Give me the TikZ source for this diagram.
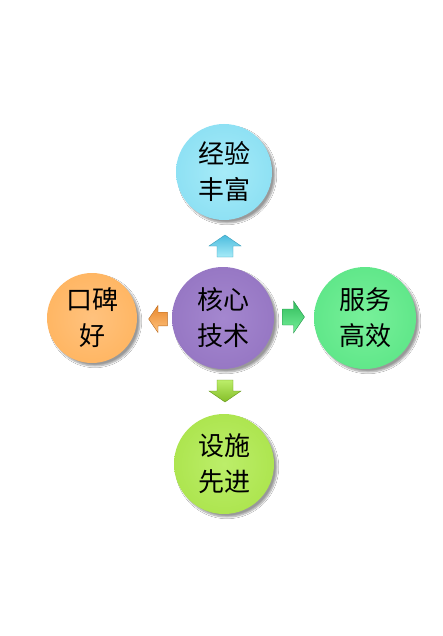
\documentclass[tikz,border=0pt]{standalone}
\usepackage{fontspec}
\newfontfamily\cjk{Noto Sans CJK SC}
\usetikzlibrary{shadows.blur}
\definecolor{cyL}{HTML}{A6EBF8}\definecolor{cyM}{HTML}{86DDF2}\definecolor{cyD}{HTML}{4CBCDE}\definecolor{cyR}{HTML}{D0F6FC}\definecolor{cyE}{HTML}{3A9FBC}
\definecolor{orL}{HTML}{FFC27E}\definecolor{orM}{HTML}{FFB25A}\definecolor{orD}{HTML}{E8882C}\definecolor{orR}{HTML}{FFDCAA}\definecolor{orE}{HTML}{B86A20}
\definecolor{puL}{HTML}{A487CF}\definecolor{puM}{HTML}{9272C0}\definecolor{puD}{HTML}{6A4E9C}\definecolor{puR}{HTML}{C0AAE0}\definecolor{puE}{HTML}{52387C}
\definecolor{grL}{HTML}{78F09A}\definecolor{grM}{HTML}{58E484}\definecolor{grD}{HTML}{30BC5C}\definecolor{grR}{HTML}{B0F8C8}\definecolor{grE}{HTML}{229448}
\definecolor{liL}{HTML}{BCEE6A}\definecolor{liM}{HTML}{A8E246}\definecolor{liD}{HTML}{84BE28}\definecolor{liR}{HTML}{DAF8A4}\definecolor{liE}{HTML}{66961A}
\pgfdeclareradialshading{ballcyan}{\pgfpoint{0bp}{0bp}}{color(0bp)=(cyL); color(34bp)=(cyM); color(44.5bp)=(cyD); color(47bp)=(cyD); color(48.3bp)=(cyR); color(50bp)=(cyE)}
\pgfdeclareradialshading{ballorange}{\pgfpoint{0bp}{0bp}}{color(0bp)=(orL); color(34bp)=(orM); color(44.5bp)=(orD); color(47bp)=(orD); color(48.3bp)=(orR); color(50bp)=(orE)}
\pgfdeclareradialshading{ballpurple}{\pgfpoint{0bp}{0bp}}{color(0bp)=(puL); color(34bp)=(puM); color(44.5bp)=(puD); color(47bp)=(puD); color(48.3bp)=(puR); color(50bp)=(puE)}
\pgfdeclareradialshading{ballgreen}{\pgfpoint{0bp}{0bp}}{color(0bp)=(grL); color(34bp)=(grM); color(44.5bp)=(grD); color(47bp)=(grD); color(48.3bp)=(grR); color(50bp)=(grE)}
\pgfdeclareradialshading{balllime}{\pgfpoint{0bp}{0bp}}{color(0bp)=(liL); color(34bp)=(liM); color(44.5bp)=(liD); color(47bp)=(liD); color(48.3bp)=(liR); color(50bp)=(liE)}
\tikzset{
  ball/.style={circle, inner sep=0pt, align=center, text=black,
    font=\cjk\fontsize{26}{36}\selectfont,
    blur shadow={shadow xshift=3pt, shadow yshift=-3pt, shadow blur steps=6, shadow opacity=40}},
  blockarrow/.pic={\path[pic actions] (-11,-8) -- (0,-8) -- (0,-16) -- (11,0) -- (0,16) -- (0,8) -- (-11,8) -- cycle;}
}
\begin{document}
\begin{tikzpicture}[x=1pt,y=-1pt]
\fill[white] (0,0) rectangle (442,636);
\useasboundingbox (0,0) rectangle (442,636);
\node[ball, minimum size=96pt, shading=ballcyan] (top) at (224,172) {经验\\丰富};
\node[ball, minimum size=90pt, shading=ballorange] (left) at (92,318) {口碑\\好};
\node[ball, minimum size=102pt, shading=ballpurple] (core) at (223,318) {核心\\技术};
\node[ball, minimum size=102pt, shading=ballgreen] (right) at (365,318) {服务\\高效};
\node[ball, minimum size=100pt, shading=balllime] (bottom) at (224,464) {设施\\先进};
\coordinate (aTop) at (225,246);
\coordinate (aLeft) at (158,319);
\coordinate (aRight) at (293.5,317);
\coordinate (aBottom) at (225,391);
\pic[rotate=90, top color=cyD, bottom color=cyL, draw=cyE, line width=0.4pt] at (aTop) {blockarrow};
\pic[rotate=180, scale=0.85, top color=orD, bottom color=orL, draw=orE, line width=0.4pt] at (aLeft) {blockarrow};
\pic[top color=grD, bottom color=grL, draw=grE, line width=0.4pt] at (aRight) {blockarrow};
\pic[rotate=-90, top color=liL, bottom color=liD, draw=liE, line width=0.4pt] at (aBottom) {blockarrow};
\end{tikzpicture}
\end{document}
